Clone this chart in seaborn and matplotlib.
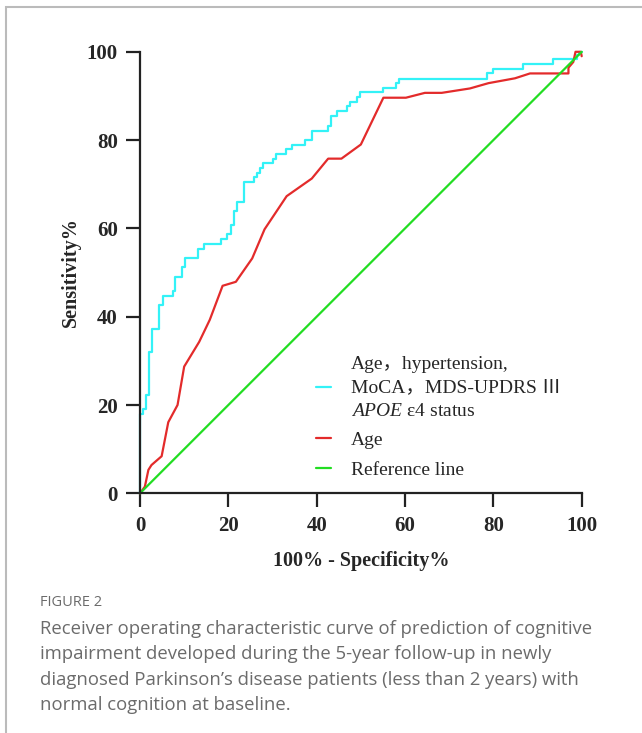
import matplotlib
matplotlib.use("Agg")
import matplotlib.pyplot as plt
import seaborn as sns
import pandas as pd
from matplotlib.patches import Rectangle

# ROC curve of the combined model (step curve)
combo_fpr = [0, 0, 0.6, 0.6, 1.4, 1.4, 2.1, 2.1, 2.8, 2.8, 4.4, 4.4, 5.1, 5.1,
             7.4, 7.4, 8.0, 8.0, 9.6, 9.6, 10.2, 10.2, 13.2, 13.2, 14.5, 14.5,
             18.3, 18.3, 19.8, 19.8, 20.5, 20.5, 21.3, 21.3, 21.9, 21.9, 23.5, 23.5,
             25.7, 25.7, 26.4, 26.4, 27.2, 27.2, 27.9, 27.9, 30.0, 30.0, 30.8, 30.8,
             33.0, 33.0, 34.5, 34.5, 37.4, 37.4, 38.9, 38.9, 42.6, 42.6, 43.2, 43.2,
             44.7, 44.7, 46.9, 46.9, 47.5, 47.5, 49.2, 49.2, 49.8, 49.8, 55.1, 55.1,
             58.0, 58.0, 58.7, 58.7, 78.5, 78.5, 80.0, 80.0, 86.8, 86.8, 93.4, 93.4,
             98.9, 98.9, 99.5, 99.5, 100]
combo_tpr = [0, 18.0, 18.0, 19.0, 19.0, 22.3, 22.3, 32.0, 32.0, 37.3, 37.3, 42.6,
             42.6, 44.8, 44.8, 45.9, 45.9, 49.1, 49.1, 51.2, 51.2, 53.3, 53.3, 55.4,
             55.4, 56.5, 56.5, 57.6, 57.6, 58.7, 58.7, 60.8, 60.8, 64.0, 64.0, 66.0,
             66.0, 70.4, 70.4, 71.6, 71.6, 72.6, 72.6, 73.6, 73.6, 74.7, 74.7, 75.7,
             75.7, 76.8, 76.8, 77.9, 77.9, 78.9, 78.9, 80.1, 80.1, 82.1, 82.1, 83.2,
             83.2, 85.4, 85.4, 86.5, 86.5, 87.8, 87.8, 88.6, 88.6, 89.7, 89.7, 90.8,
             90.8, 91.8, 91.8, 93.0, 93.0, 93.9, 93.9, 95.1, 95.1, 96.2, 96.2, 97.2,
             97.2, 98.3, 98.3, 99.2, 99.2, 100, 100]

# ROC curve of age alone
age_fpr = [0, 1.1, 1.9, 2.6, 4.9, 6.4, 8.5, 10.0, 13.4, 15.8, 18.7, 21.7, 25.4,
           28.2, 33.2, 38.9, 42.6, 45.6, 50.0, 55.1, 60.2, 64.5, 68.3, 74.7, 78.9,
           84.9, 88.3, 97.0, 97.0, 98.1, 98.6, 99.8, 100]
age_tpr = [0, 1.5, 5.3, 6.4, 8.4, 16.1, 20.0, 28.7, 34.3, 39.3, 47.0, 47.9, 53.2,
           59.8, 67.3, 71.3, 75.8, 75.8, 79.0, 89.6, 89.6, 90.7, 90.7, 91.7, 92.9,
           94.0, 95.1, 95.1, 96.4, 97.7, 100, 100, 99.0]

ref_fpr = [0, 100]
ref_tpr = [0, 100]

combo_label = "Age\uff0chypertension,\nMoCA\uff0cMDS-UPDRS \u2162\n$\\mathit{APOE}$ \u03b54 status"
labels = [combo_label, "Age", "Reference line"]
colors = ["#33f2f7", "#e32b2b", "#22dd22"]

x_ticks = [0, 20, 40, 60, 80, 100]
y_ticks = [0, 20, 40, 60, 80, 100]

sns.set_style("ticks")
serif = ["Liberation Serif", "Noto Sans CJK SC", "DejaVu Serif"]
plt.rcParams["font.family"] = serif
plt.rcParams["mathtext.fontset"] = "custom"
plt.rcParams["mathtext.it"] = "Liberation Serif:italic"
plt.rcParams["mathtext.rm"] = "Liberation Serif"

fig = plt.figure(figsize=(6.42, 7.33), dpi=100)
ax = fig.add_axes([140 / 642, 1 - 493.3 / 733, 441.7 / 642, 441.5 / 733])

curves = [(combo_fpr, combo_tpr), (age_fpr, age_tpr), (ref_fpr, ref_tpr)]
for (fx, fy), lab, col in zip(curves, labels, colors):
    df = pd.DataFrame({"fpr": fx, "tpr": fy})
    sns.lineplot(data=df, x="fpr", y="tpr", sort=False, estimator=None,
                 color=col, lw=1.6, label=lab, ax=ax)

ax.set_xlim(0, 100)
ax.set_ylim(0, 100)
ax.set_xticks(x_ticks)
ax.set_yticks(y_ticks)
ax.tick_params(length=10, width=1.6, color="#222222", pad=6)
for t in ax.get_xticklabels() + ax.get_yticklabels():
    t.set_fontweight("bold")
    t.set_fontsize(15)
    t.set_family(serif)
for s in ["left", "bottom"]:
    ax.spines[s].set_linewidth(1.6)
    ax.spines[s].set_color("#222222")
sns.despine(ax=ax)
for l in ax.get_lines():
    l.set_clip_on(False)

ax.set_xlabel("100% - Specificity%", fontsize=14.5, fontweight="bold", labelpad=11)
ax.set_ylabel("Sensitivity%", fontsize=14.5, fontweight="bold", labelpad=4)

leg = ax.legend(loc="upper left", bbox_to_anchor=(0.398, 0.312), frameon=False,
                borderaxespad=0, borderpad=0,
                handlelength=0.8, handletextpad=1.0, labelspacing=0.62,
                prop={"family": serif, "size": 14})
leg.get_texts()[0].set_linespacing(1.5)

# figure frame and caption
fig.patches.append(Rectangle((6 / 642, -0.1), 1.2, (733 - 7) / 733 + 0.1,
                             transform=fig.transFigure, fill=False,
                             edgecolor="#bbbbbb", lw=1.5))
fig.text(40 / 642, 1 - 603 / 733, "FIGURE 2", fontsize=10.5, color="#6b6b6b",
         family=["Open Sans", "DejaVu Sans"], va="center")
caption = ("Receiver operating characteristic curve of prediction of cognitive\n"
           "impairment developed during the 5-year follow-up in newly\n"
           "diagnosed Parkinson\u2019s disease patients (less than 2 years) with\n"
           "normal cognition at baseline.")
fig.text(40 / 642, 1 - 620 / 733, caption, fontsize=13.3, color="#6b6b6b",
         family=["Open Sans", "DejaVu Sans"], va="top", linespacing=1.52)

fig.savefig("out.png", dpi=100)
